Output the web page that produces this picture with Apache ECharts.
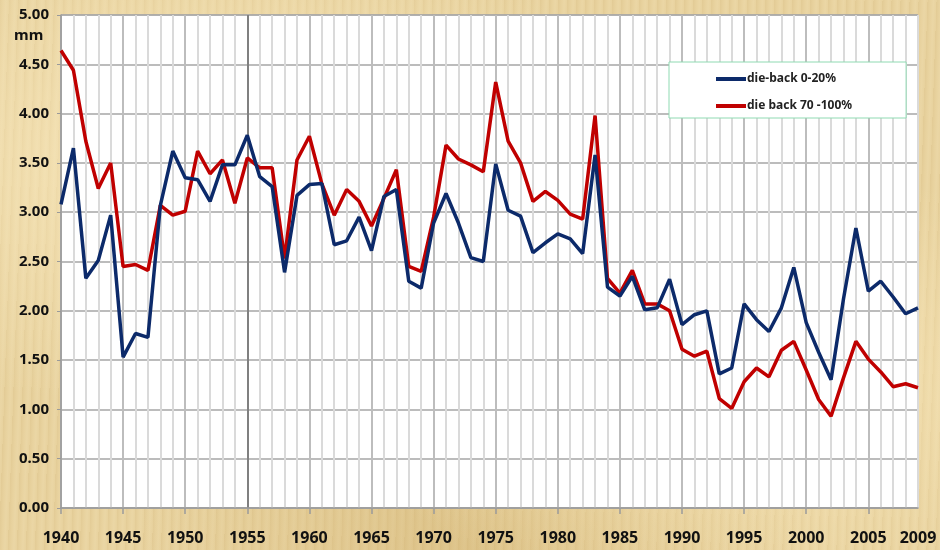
<!DOCTYPE html>
<html lang="en">
<head>
    <meta charset="UTF-8">
    <title>die-back</title>
    <script src="https://cdn.jsdelivr.net/npm/echarts@6/dist/echarts.min.js"></script>
    <style>
        body { margin: 0; }
        #box {
            width: 940px; height: 550px;
            background-color: #e8d29e;
            background-image:
                radial-gradient(ellipse at 20% 30%, rgba(255, 240, 200, 0.55), rgba(255, 240, 200, 0) 45%),
                radial-gradient(ellipse at 80% 70%, rgba(255, 238, 195, 0.5), rgba(255, 238, 195, 0) 40%),
                radial-gradient(ellipse at 50% 100%, rgba(200, 165, 95, 0.35), rgba(200, 165, 95, 0) 50%),
                repeating-linear-gradient(92deg, rgba(180, 145, 80, 0.10) 0px, rgba(180, 145, 80, 0) 3px, rgba(255, 245, 215, 0.12) 6px, rgba(180, 145, 80, 0) 9px);
        }
    </style>
</head>
<body>
<div id='box'></div>
<script>
    var years = [];
    for (var y = 1940; y <= 2009; y++) years.push(String(y));

    // die-back 0-20%
    var dieBackLow = [3.08, 3.65, 2.33, 2.51, 2.97, 1.53, 1.77, 1.73, 3.07, 3.62,
        3.35, 3.33, 3.11, 3.48, 3.48, 3.78, 3.36, 3.26, 2.39, 3.17,
        3.28, 3.29, 2.67, 2.71, 2.95, 2.61, 3.16, 3.23, 2.30, 2.23,
        2.89, 3.19, 2.89, 2.54, 2.50, 3.49, 3.02, 2.96, 2.59, 2.69,
        2.78, 2.73, 2.58, 3.58, 2.24, 2.15, 2.35, 2.01, 2.03, 2.32,
        1.86, 1.96, 2.00, 1.36, 1.42, 2.07, 1.91, 1.79, 2.03, 2.44,
        1.88, 1.58, 1.30, 2.12, 2.84, 2.20, 2.30, 2.14, 1.97, 2.03];
    // die back 70-100%
    var dieBackHigh = [4.64, 4.44, 3.72, 3.24, 3.50, 2.45, 2.47, 2.41, 3.07, 2.97,
        3.01, 3.62, 3.39, 3.53, 3.09, 3.55, 3.45, 3.45, 2.53, 3.53,
        3.77, 3.29, 2.97, 3.23, 3.11, 2.86, 3.14, 3.43, 2.45, 2.40,
        2.95, 3.68, 3.54, 3.48, 3.41, 4.32, 3.72, 3.50, 3.11, 3.21,
        3.12, 2.98, 2.93, 3.98, 2.33, 2.18, 2.41, 2.07, 2.07, 2.00,
        1.61, 1.54, 1.59, 1.11, 1.01, 1.28, 1.42, 1.33, 1.60, 1.69,
        1.40, 1.10, 0.93, 1.32, 1.69, 1.51, 1.38, 1.23, 1.26, 1.22];

    // vertical grid colours: a bit darker every 5 years, darkest at 1955
    var vColors = years.map(function (v) {
        var n = +v;
        if (n === 1955) return '#808080';
        if (n % 5 === 0) return '#bdbdbd';
        return '#dadada';
    });

    var font = '"Noto Sans", "DejaVu Sans", sans-serif';
    var myChart = echarts.init(document.getElementById('box'));
    var option = {
        backgroundColor: 'transparent',
        textStyle: { fontFamily: font },
        color: ['#0c2a6a', '#c00000'],
        legend: {
            data: ['die-back 0-20%', 'die back 70 -100%'],
            orient: 'vertical',
            left: 669,
            top: 62,
            padding: [11, 54, 6, 47],
            itemGap: 15,
            itemWidth: 30,
            itemHeight: 4,
            icon: 'rect',
            backgroundColor: '#ffffff',
            borderColor: '#8fdab2',
            borderWidth: 1,
            textStyle: { fontSize: 12, fontWeight: 'bold', color: '#222', fontFamily: font, padding: [0, 0, 0, -4] }
        },
        grid: {
            left: 61, right: 22, top: 15, bottom: 42,
            show: true,
            backgroundColor: '#ffffff',
            borderColor: '#a6a6a6',
            borderWidth: 1
        },
        graphic: [{
            type: 'text',
            left: 14, top: 28,
            style: { text: 'mm', font: 'bold 15px "Noto Sans"', fill: '#111' }
        }],
        xAxis: {
            type: 'category',
            data: years,
            boundaryGap: false,
            axisLine: { lineStyle: { color: '#9a9a9a', width: 1.5 } },
            axisTick: {
                show: true,
                length: 6,
                interval: function (i, v) { return +v % 5 === 0; },
                lineStyle: { color: '#9a9a9a', width: 1.5 }
            },
            axisLabel: {
                interval: function (i, v) { return +v % 5 === 0 || +v === 2009; },
                margin: 22,
                fontSize: 16,
                fontWeight: 'bold',
                color: '#111'
            },
            splitLine: {
                show: true,
                interval: 0,
                lineStyle: { color: vColors, width: 2 }
            }
        },
        yAxis: {
            type: 'value',
            min: 0, max: 5, interval: 0.5,
            axisLine: { show: true, lineStyle: { color: '#9a9a9a', width: 1.5 } },
            axisTick: { show: true, length: 4, lineStyle: { color: '#9a9a9a' } },
            axisLabel: {
                margin: 12,
                fontSize: 15,
                fontWeight: 'bold',
                color: '#111',
                formatter: function (v) { return v.toFixed(2); }
            },
            splitLine: { lineStyle: { color: '#a6a6a6', width: 1.5 } }
        },
        series: [
            {
                name: 'die-back 0-20%',
                type: 'line',
                data: dieBackLow,
                symbol: 'none',
                lineStyle: { width: 3.5, color: '#0c2a6a' },
                z: 3
            },
            {
                name: 'die back 70 -100%',
                type: 'line',
                data: dieBackHigh,
                symbol: 'none',
                lineStyle: { width: 3.5, color: '#c00000' },
                z: 2
            }
        ]
    };
    myChart.setOption(option);
</script>
</body>
</html>
